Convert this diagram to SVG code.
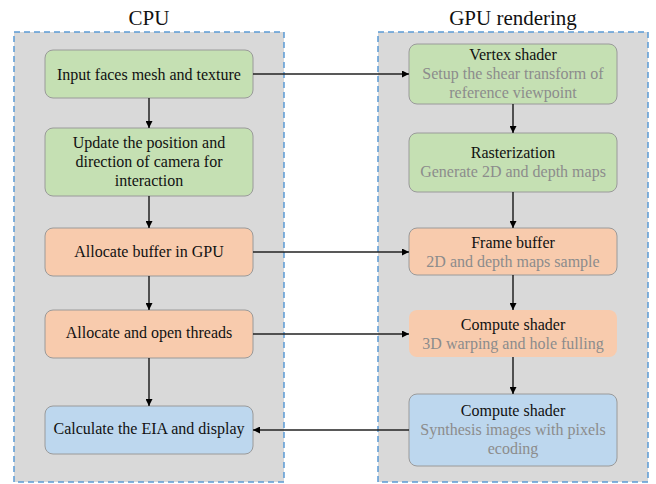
<svg xmlns="http://www.w3.org/2000/svg" width="656" height="484" viewBox="0 0 656 484">
<defs>
<marker id="ah" viewBox="0 0 10 10" refX="10" refY="5" markerWidth="7" markerHeight="7" markerUnits="userSpaceOnUse" orient="auto">
<path d="M0,0 L10,5 L0,10 z" fill="#000"/>
</marker>
<style>
.cont{fill:#d9d9d9;stroke:#5b9bd5;stroke-width:1.5;stroke-dasharray:6 4}
.g{fill:#c5e0b3;stroke:#9a9a9a;stroke-width:1}
.o{fill:#f8cbad;stroke:#9a9a9a;stroke-width:1}
.o2{fill:#f8cbad;stroke:none}
.b{fill:#bdd7ee;stroke:#9a9a9a;stroke-width:1}
text{font-family:"Liberation Serif","Times New Roman",serif;text-anchor:middle}
.t{font-size:16px;fill:#111}
.s{font-size:16px;fill:#8c8c8c}
.title{font-size:21px;fill:#111}
.c{stroke:#222;stroke-width:1.5;fill:none;marker-end:url(#ah)}
</style>
</defs>
<rect width="656" height="484" fill="#fff"/>
<g id="cpu">
<rect class="cont" x="14" y="32" width="270" height="450"/>
<text class="title" x="149" y="25">CPU</text>
</g>
<g id="gpu">
<rect class="cont" x="378" y="32" width="270" height="450"/>
<text class="title" x="513" y="25">GPU rendering</text>
</g>
<g id="n1"><rect class="g" x="45" y="50" width="208" height="48" rx="8"/><text class="t" x="149" y="80">Input faces mesh and texture</text></g>
<g id="n2"><rect class="g" x="45" y="128" width="208" height="68" rx="8"/><text class="t" x="149" y="148">Update the position and</text><text class="t" x="149" y="167">direction of camera for</text><text class="t" x="149" y="186">interaction</text></g>
<g id="n3"><rect class="o" x="45" y="228" width="208" height="48" rx="8"/><text class="t" x="149" y="257">Allocate buffer in GPU</text></g>
<g id="n4"><rect class="o" x="45" y="310" width="208" height="48" rx="8"/><text class="t" x="149" y="338">Allocate and open threads</text></g>
<g id="n5"><rect class="b" x="45" y="406" width="208" height="48" rx="8"/><text class="t" x="149" y="434">Calculate the EIA and display</text></g>
<g id="r1"><rect class="g" x="409" y="44" width="208" height="60" rx="8"/><text class="t" x="513" y="60">Vertex shader</text><text class="s" x="513" y="79">Setup the shear transform of</text><text class="s" x="513" y="98">reference viewpoint</text></g>
<g id="r2"><rect class="g" x="409" y="133" width="208" height="59" rx="8"/><text class="t" x="513" y="158">Rasterization</text><text class="s" x="513" y="177">Generate 2D and depth maps</text></g>
<g id="r3"><rect class="o" x="409" y="228" width="208" height="47" rx="8"/><text class="t" x="513" y="248">Frame buffer</text><text class="s" x="513" y="267">2D and depth maps sample</text></g>
<g id="r4"><rect class="o2" x="409" y="310" width="208" height="47" rx="8"/><text class="t" x="513" y="330">Compute shader</text><text class="s" x="513" y="349">3D warping and hole fulling</text></g>
<g id="r5"><rect class="b" x="409" y="394" width="208" height="72" rx="8"/><text class="t" x="513" y="416">Compute shader</text><text class="s" x="513" y="435">Synthesis images with pixels</text><text class="s" x="513" y="454">ecoding</text></g>
<g id="connectors">
<line class="c" x1="149" y1="98" x2="149" y2="128"/>
<line class="c" x1="149" y1="196" x2="149" y2="228"/>
<line class="c" x1="149" y1="276" x2="149" y2="310"/>
<line class="c" x1="149" y1="358" x2="149" y2="406"/>
<line class="c" x1="513" y1="104" x2="513" y2="133"/>
<line class="c" x1="513" y1="192" x2="513" y2="228"/>
<line class="c" x1="513" y1="275" x2="513" y2="310"/>
<line class="c" x1="513" y1="357" x2="513" y2="394"/>
<line class="c" x1="253" y1="74" x2="409" y2="74"/>
<line class="c" x1="253" y1="252" x2="409" y2="252"/>
<line class="c" x1="253" y1="334" x2="409" y2="334"/>
<line class="c" x1="409" y1="430" x2="253" y2="430"/>
</g>
</svg>
